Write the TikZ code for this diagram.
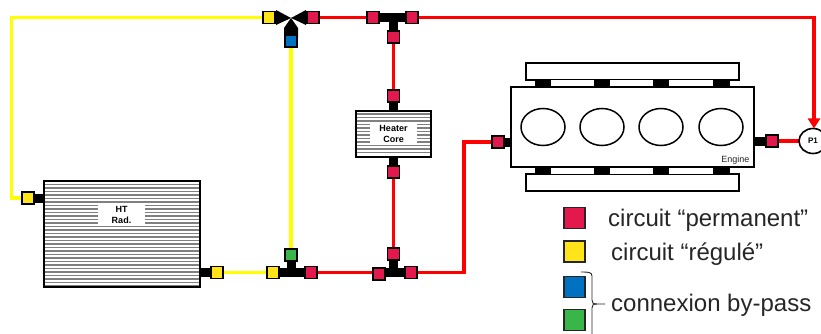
\documentclass[tikz,border=0pt]{standalone}
\usepackage{fontspec}
\setmainfont{Liberation Sans}
\usetikzlibrary{arrows.meta,backgrounds,shapes.geometric}
\definecolor{pRed}{HTML}{E3184D}
\definecolor{pYel}{HTML}{FFE41A}
\definecolor{pBlu}{HTML}{0070C0}
\definecolor{pGrn}{HTML}{39B54A}
\definecolor{lRed}{HTML}{FF0000}
\definecolor{lYel}{HTML}{FFFF00}
\tikzset{
  port/.style={draw=black,line width=1.8pt,minimum size=12pt,inner sep=0pt,outer sep=0pt},
  rp/.style={port,fill=pRed},
  yp/.style={port,fill=pYel},
  bp/.style={port,fill=pBlu},
  gp/.style={port,fill=pGrn},
  legendbox/.style={draw=black!85,line width=1.4pt,minimum size=21pt,inner sep=0pt,fill=#1},
  redpipe/.style={draw=lRed,line width=3.2pt},
  yelpipe/.style={draw=lYel,line width=3.2pt},
  stub/.style={draw=black,line width=9pt},
  bodybox/.style={draw=black,line width=2pt,fill=white,inner sep=0pt,outer sep=0pt},
  cyl/.style={draw=black,line width=1.5pt,ellipse,fill=white},
  fin/.style={draw=black!50,line width=1.5pt},
  tag/.style={fill=white,inner sep=0pt,align=center,font=\fontsize{9}{11}\selectfont\bfseries},
  legendtext/.style={anchor=base west,inner sep=0pt,text=black!85,font=\fontsize{24}{26}\selectfont},
}
\begin{document}
\begin{tikzpicture}[x=1pt,y=-1pt]
\useasboundingbox (0,0) rectangle (821,334);
% radiator
\node[bodybox,minimum width=156pt,minimum height=106pt] (rad) at (122,234) {};
\foreach \y in {184.5,188,...,286} {\draw[fin] (45,\y) -- (199,\y);}
\draw[bodybox,fill=none] (rad.north west) rectangle (rad.south east);
\node[tag,minimum width=47pt,minimum height=20pt] (radl) at (121.5,215) {HT\\[-0.5pt]Rad.};
% heater
\node[bodybox,minimum width=75pt,minimum height=46pt] (heat) at (393.5,134) {};
\foreach \y in {114,117.5,...,155} {\draw[fin,line width=1.2pt] (357,\y) -- (430,\y);}
\draw[bodybox,fill=none] (heat.north west) rectangle (heat.south east);
\node[tag,minimum width=47pt,minimum height=21pt] (heatl) at (393.5,134) {Heater\\[-0.5pt]Core};
% engine
\node[bodybox,minimum width=213pt,minimum height=17pt] (headT) at (632.5,71.5) {};
\node[bodybox,minimum width=213pt,minimum height=17pt] (headB) at (632.5,182.5) {};
\node[bodybox,minimum width=194pt,minimum height=7pt,line width=1pt] (stripT) at (632,83.5) {};
\node[bodybox,minimum width=194pt,minimum height=7pt,line width=1pt] (stripB) at (632,170.5) {};
\foreach \x/\n in {543/a,602/b,661/c,721/d} {
  \node[fill=black,minimum width=16pt,minimum height=7pt,inner sep=0pt] (tb\n) at (\x,83.5) {};
  \node[fill=black,minimum width=16pt,minimum height=7pt,inner sep=0pt] (bb\n) at (\x,170.5) {};
}
\node[bodybox,minimum width=243pt,minimum height=80pt] (eng) at (632.5,127) {};
\foreach \x/\n in {543/a,602/b,661/c,721/d} {
  \node[cyl,minimum width=44pt,minimum height=37pt,inner sep=0pt] (cyl\n) at (\x,127) {};
}
\node[inner sep=0pt,text=black!85,font=\fontsize{9}{11}\selectfont,anchor=south east] (engl) at (749.5,165) {Engine};
% pump
\node[draw=black,line width=1.6pt,fill=white,ellipse,minimum width=28pt,minimum height=25pt,inner sep=0pt,outer sep=0pt,font=\fontsize{8}{10}\selectfont\bfseries] (pump) at (813,141) {P1};
% ports
\node[yp] (ytop) at (269,17.5) {};
\node[rp] (rv) at (313,17.5) {};
\node[bp] (bv) at (291,41) {};
\node[rp] (tl) at (373,17.5) {};
\node[rp] (tr) at (412,17.5) {};
\node[rp] (tb) at (393.5,37) {};
\coordinate (tc) at (393.5,17.5);
\node[rp] (hin) at (393.5,96) {};
\node[rp] (hout) at (393.5,172) {};
\node[yp] (rin) at (28,198) {};
\node[yp] (rout) at (217,272.5) {};
\node[yp] (byl) at (273,272.5) {};
\node[rp] (byr) at (311,272.5) {};
\node[gp] (byt) at (291,255) {};
\coordinate (byc) at (291,272.5);
\node[rp] (jl) at (379,274) {};
\node[rp] (jr) at (411,272.5) {};
\node[rp] (jt) at (393.5,254) {};
\coordinate (jc) at (393.5,272.5);
\node[rp] (ein) at (498,142) {};
\node[rp] (eout) at (772,141) {};
\coordinate (ycorner1) at (11.5,17.5);
\coordinate (ycorner2) at (11.5,198);
\coordinate (rcorner1) at (464,272.5);
\coordinate (rcorner2) at (464,142);
\coordinate (pcorner) at (814,17.5);
\coordinate (vc) at (291,18);
% pipes and stubs
\begin{pgfonlayer}{background}
\draw[yelpipe] (ytop.center) -- (ycorner1) -- (ycorner2) -- (rin.center);
\draw[yelpipe] (rout.center) -- (byl.center);
\draw[yelpipe] (bv.center) -- (byt.center);
\draw[redpipe] (rv.center) -- (tl.center);
\draw[redpipe] (tb.center) -- (hin.center);
\draw[redpipe] (hout.center) -- (jt.center);
\draw[redpipe] (byr.center) -- (jr.center);
\draw[redpipe] (jr.center) -- (rcorner1) -- (rcorner2) -- (ein.center);
\draw[redpipe] (eout.center) -- (pump.center);
\draw[stub] (tl.center) -- (tr.center);
\draw[stub] (tc) -- (tb.center);
\draw[stub] (byl.center) -- (byr.center);
\draw[stub] (byc) -- (byt.center);
\draw[stub] (jl.center |- jc) -- (jr.center);
\draw[stub] (jc) -- (jt.center);
\draw[stub] (hin.center) -- (heat.north);
\draw[stub] (hout.center) -- (heat.south);
\draw[stub] (rin.center) -- (rin.center -| rad.west);
\draw[stub] (rout.center) -- (rout.center -| rad.east);
\draw[stub] (ein.center) -- (ein.center -| eng.west);
\draw[stub] (eout.center) -- (eout.center -| eng.east);
\fill[black] (vc) -- (276,10) -- (276,25) -- cycle;
\fill[black] (vc) -- (306,10) -- (306,25) -- cycle;
\fill[black] (vc) -- (298,28) -- (298,38) -- (284,38) -- (284,28) -- cycle;
\end{pgfonlayer}
\draw[redpipe,-{Triangle[length=10pt,width=12pt]}] (tr.center) -- (pcorner) -- (pump.north -| pcorner);
\node[rp] at (tr.center) {};
% legend
\node[legendbox=pRed] (k1) at (574.5,218) {};
\node[legendbox=pYel] (k2) at (574.5,251.5) {};
\node[legendbox=pBlu] (k3) at (574.5,287) {};
\node[legendbox=pGrn] (k4) at (574.5,320) {};
\node[legendtext] (t1) at (608,226) {circuit “permanent”};
\node[legendtext] (t2) at (611,260) {circuit “régulé”};
\node[legendtext] (t3) at (611,311) {connexion by-pass};
\coordinate (brA) at (581,272);
\coordinate (brB) at (592,276);
\coordinate (brC) at (592,300);
\coordinate (brD) at (592,308);
\coordinate (brE) at (592,334);
\draw[black!85,line width=.9pt] (brA) .. controls (588,272) and (592,272) .. (brB) -- (brC) .. controls (592,303) and (593,304) .. (597,304) -- (605,304);
\draw[black!85,line width=.9pt] (597,304) .. controls (593,304) and (592,305) .. (brD) -- (brE);
\end{tikzpicture}
\end{document}
